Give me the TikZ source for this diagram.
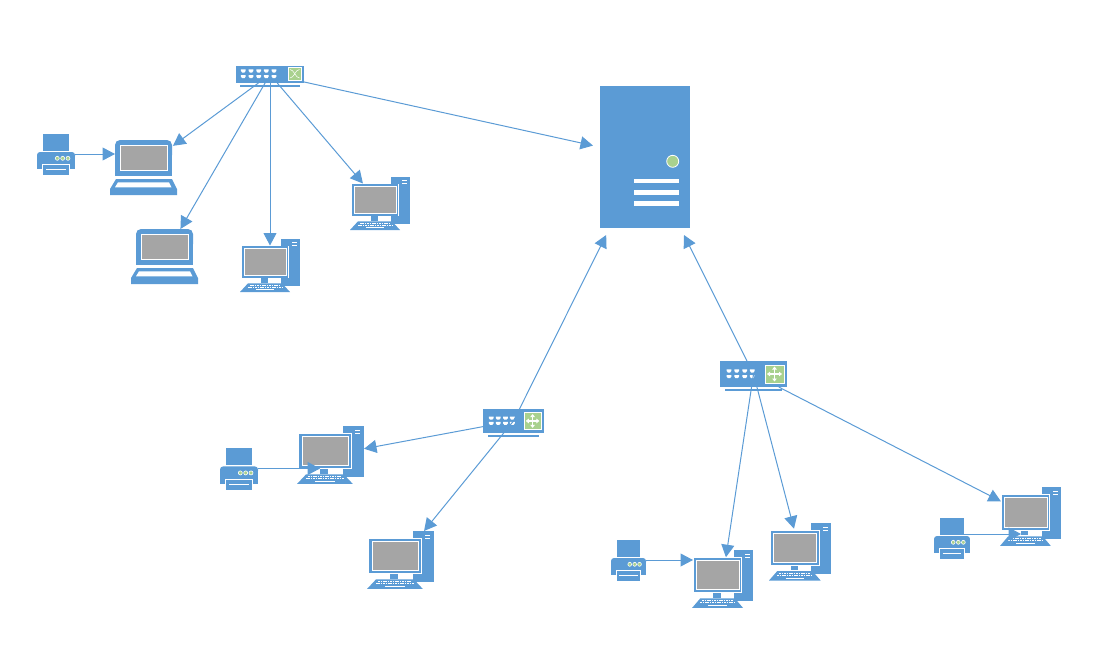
\documentclass[tikz,border=0pt]{standalone}
\usepackage{tikz}
\usetikzlibrary{arrows.meta}

\definecolor{netblue}{HTML}{5B9BD5}
\definecolor{netgray}{HTML}{A5A5A5}
\definecolor{netgreen}{HTML}{A9D18E}

\tikzset{
  iconbox/.style={inner sep=0pt, outer sep=0pt, transform shape},
  part/.style={fill=netblue, draw=none},
  slit/.style={draw=white, line width=.9pt},
  lamp/.style={fill=netgreen, draw=white, line width=.6pt},
  portgap/.pic={
    \fill[white] (-2.4,-1.6) -- (2.4,-1.6) -- (2.4,-.1) -- (1.1,1.5) -- (-1.1,1.5) -- (-2.4,-.1) -- cycle;
  },
  pics/desktop/.style={code={
    \node[iconbox, minimum width=60pt, minimum height=53pt] (box) at (30,26.5) {};
    \fill[part] (41,0) rectangle (60,47);
    \draw[slit, line width=.8pt] (52.3,3.6) -- (56.7,3.6) (52.3,6.4) -- (56.7,6.4);
    \fill[part] (21,38) rectangle (28,43.5);
    \fill[white] (1.5,6.5) rectangle (49,39.2);
    \fill[part] (2,7) rectangle (48.3,38.7);
    \filldraw[fill=netgray, draw=white, line width=.8pt] (4.4,9.2) rectangle (46.2,36);
    \fill[part] (8,44.3) -- (42,44.3) -- (50,53) -- (0,53) -- cycle;
    \draw[white, line width=1pt, dash pattern=on 1.6pt off .8pt] (10,46.1) -- (40,46.1) (8,48.2) -- (42,48.2);
    \draw[white, line width=1pt] (16,50.8) -- (34,50.8);
  }},
  pics/laptop/.style={code={
    \node[iconbox, minimum width=67pt, minimum height=55pt] (box) at (33.5,27.5) {};
    \fill[part, rounded corners=5pt] (5,20) -- (5,0) -- (62,0) -- (62,20) -- cycle;
    \fill[part] (5,12) rectangle (62,36);
    \filldraw[fill=netgray, draw=white, line width=.9pt] (10,5.2) rectangle (57,30.8);
    \fill[part] (6,39) -- (62,39) -- (67,49) -- (67,55) -- (0,55) -- (0,49) -- cycle;
    \fill[white] (8,42.3) -- (59,42.3) -- (61.5,47.3) -- (5,47.3) -- cycle;
  }},
  pics/printer/.style={code={
    \node[iconbox, minimum width=38pt, minimum height=40pt] (box) at (19,20) {};
    \fill[part] (6,0) rectangle (32,17);
    \fill[part, rounded corners=3pt] (0,25) -- (0,18) -- (38,18) -- (38,25) -- cycle;
    \fill[part] (0,22) rectangle (38,35);
    \filldraw[fill=netblue, draw=white, line width=.9pt] (5.5,30.5) rectangle (32.5,41);
    \fill[white] (0,40.5) rectangle (38,41.5);
    \draw[slit] (9,35.3) -- (29,35.3);
    \foreach \dotx in {20.3,25.7,31} {
      \filldraw[lamp] (\dotx,24.3) circle (2pt);
    }
  }},
  pics/switch/.style={code={
    \node[iconbox, minimum width=68pt, minimum height=17pt] (box) at (34,8.5) {};
    \fill[part] (0,0) rectangle (68,17);
    \fill[part] (4,19) rectangle (64,21);
    \foreach \portx in {7.3,15,22.7,30.3,38} {
      \pic at (\portx,5) {portgap};
      \pic at (\portx,10.7) {portgap};
    }
    \filldraw[fill=netgreen, draw=white, line width=.8pt] (52,1.7) rectangle (65.3,14);
    \draw[white, line width=.5pt] (54,3.5) .. controls (58,3.5) and (59.5,12) .. (63.5,12)
      (54,12) .. controls (58,12) and (59.5,3.5) .. (63.5,3.5);
  }},
  pics/hub/.style={code={
    \node[iconbox, minimum width=67pt, minimum height=26pt] (box) at (33.5,13) {};
    \fill[part] (0,0) rectangle (67,26);
    \fill[part] (5,28) rectangle (62,30);
    \foreach \portx in {9,16.7,24.7,32.3} {
      \pic at (\portx,10) {portgap};
      \pic at (\portx,15.7) {portgap};
    }
    \filldraw[fill=netgreen, draw=white, line width=.9pt] (45,4) rectangle (64,22);
    \draw[white, line width=1.2pt, {Triangle[length=3pt,width=4.5pt]}-{Triangle[length=3pt,width=4.5pt]}] (47,13) -- (62,13);
    \draw[white, line width=1.2pt, {Triangle[length=3pt,width=4.5pt]}-{Triangle[length=3pt,width=4.5pt]}] (54.5,5.5) -- (54.5,20.5);
  }},
  pics/server/.style={code={
    \node[iconbox, minimum width=90pt, minimum height=142pt, outer sep=7pt] (box) at (45,71) {};
    \fill[part] (0,0) rectangle (90,142);
    \filldraw[lamp, line width=.8pt] (72.7,75.3) circle (6pt);
    \foreach \bary in {93,104.3,115.3} {
      \fill[white] (34.3,\bary) rectangle (78.7,\bary+4.2);
    }
  }}
}

\begin{document}
\begin{tikzpicture}[
    x=1pt, y=-1pt,
    conn/.style={-{Triangle[length=12.5pt,width=13pt]}, draw=netblue, line width=1pt}
  ]
    \useasboundingbox (0,0) rectangle (1109,651);

    \pic (server) at (600,86) {server};
    \pic (swa) at (236,66) {switch};
    \pic (swb) [xscale=.91, yscale=.92] at (483,409) {hub};
    \pic (swc) at (720,361) {hub};

    \pic (lapa) at (110,140) {laptop};
    \pic (lapb) at (131,229) {laptop};
    \pic (pca) at (350,177) {desktop};
    \pic (pcb) at (240,239) {desktop};
    \pic (pcc) [xscale=1.117, yscale=1.094] at (297,426) {desktop};
    \pic (pcd) [xscale=1.117, yscale=1.094] at (367,531) {desktop};
    \pic (pce) [xscale=1.022, yscale=1.094] at (692,550) {desktop};
    \pic (pcf) [xscale=1.033, yscale=1.085] at (769,523) {desktop};
    \pic (pcg) [xscale=1.017, yscale=1.113] at (1000,487) {desktop};

    \pic (pra) at (37,134) {printer};
    \pic (prb) [yscale=1.025] at (220,448) {printer};
    \pic (prc) [xscale=.921] at (611,540) {printer};
    \pic (prd) [xscale=.947] at (934,518) {printer};

    \draw[conn] (swabox) -- (serverbox);
    \draw[conn, shorten >=-5pt] (swabox) -- (lapabox);
    \draw[conn] (swabox) -- (lapbbox);
    \draw[conn, shorten >=-6.5pt] (swabox.center) -- (pcbbox);
    \draw[conn, shorten >=-8.5pt] (swabox) -- (pcabox);
    \draw[conn] (swbbox.center) -- (serverbox);
    \draw[conn] (swbbox) -- (pccbox);
    \draw[conn] (swbbox.center) -- (pcdbox);
    \draw[conn] (swcbox) -- (serverbox);
    \draw[conn, shorten >=-7.3pt] (swcbox.center) -- (pcebox);
    \draw[conn, shorten >=-5.9pt] (swcbox.center) -- (pcfbox);
    \draw[conn, shorten >=-1pt] (swcbox) -- (pcgbox);

    \draw[conn, shorten >=-5pt] (prabox.east) -- (prabox.east -| lapabox.west);
    \draw[conn, shorten >=10.5pt] (prbbox.east) -- (prbbox.east -| pccbox.center);
    \draw[conn, shorten >=-1pt] (prcbox.east) -- (prcbox.east -| pcebox.west);
    \draw[conn, shorten >=9.5pt] ([xshift=-6pt,yshift=4pt]prdbox.east) -- ([yshift=4pt]prdbox.east -| pcgbox.center);
  \end{tikzpicture}
\end{document}
